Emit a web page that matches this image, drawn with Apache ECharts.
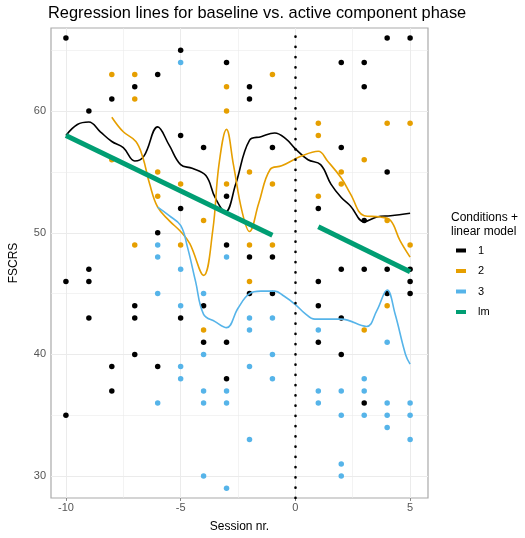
<!DOCTYPE html>
<html>
<head>
<meta charset="utf-8">
<script src="https://cdn.jsdelivr.net/npm/echarts@6/dist/echarts.min.js"></script>
<style>
html, body { margin: 0; padding: 0; background: #fff; }
#main { width: 525px; height: 538px; }
</style>
</head>
<body>
<div id="main"></div>
<script>
// tick labels
let xTicks = [-10, -5, 0, 5];
let yTicks = [30, 40, 50, 60];
let xMinor = [-7.5, -2.5, 2.5];
let yMinor = [35, 45, 55, 65];

// observed points [session, FSCRS]
let cond1Points = [
    [-10, 66], [-10, 46], [-10, 35],
    [-9, 60], [-9, 47], [-9, 46], [-9, 43],
    [-8, 61], [-8, 39], [-8, 37],
    [-7, 62], [-7, 44], [-7, 43], [-7, 40],
    [-6, 63], [-6, 50], [-6, 39],
    [-5, 65], [-5, 58], [-5, 52], [-5, 43],
    [-4, 57], [-4, 44], [-4, 41],
    [-3, 64], [-3, 53], [-3, 49], [-3, 41], [-3, 38],
    [-2, 62], [-2, 61], [-2, 48], [-2, 45],
    [-1, 57], [-1, 48], [-1, 45],
    [1, 52], [1, 46], [1, 44], [1, 41],
    [2, 64], [2, 57], [2, 47], [2, 43], [2, 40],
    [3, 64], [3, 62], [3, 51], [3, 47], [3, 36],
    [4, 66], [4, 55], [4, 47], [4, 45],
    [5, 66], [5, 47], [5, 46], [5, 45]
];
let cond2Points = [
    [-8, 63], [-8, 56],
    [-7, 63], [-7, 61], [-7, 49],
    [-6, 55], [-6, 53],
    [-5, 54], [-5, 49],
    [-4, 51], [-4, 42],
    [-3, 62], [-3, 60], [-3, 54],
    [-2, 55], [-2, 49], [-2, 46],
    [-1, 63], [-1, 54], [-1, 49],
    [1, 59], [1, 58], [1, 53],
    [2, 55], [2, 54],
    [3, 56], [3, 42],
    [4, 59], [4, 51], [4, 44],
    [5, 59], [5, 49]
];
let cond3Points = [
    [-6, 49], [-6, 48], [-6, 45], [-6, 36],
    [-5, 64], [-5, 47], [-5, 44], [-5, 39], [-5, 38],
    [-4, 45], [-4, 40], [-4, 37], [-4, 36], [-4, 30],
    [-3, 48], [-3, 37], [-3, 36], [-3, 29],
    [-2, 43], [-2, 42], [-2, 39], [-2, 33],
    [-1, 43], [-1, 40], [-1, 38],
    [1, 42], [1, 37], [1, 36],
    [2, 37], [2, 35], [2, 31], [2, 30],
    [3, 38], [3, 37], [3, 35],
    [4, 41], [4, 36], [4, 35], [4, 34],
    [5, 36], [5, 35], [5, 33]
];

// smoothed curves
let cond1Smooth = [
    [-10, 58.0], [-9.5, 58.9], [-9, 59.1], [-8.5, 58.3], [-8, 57.5], [-7.5, 57.0],
    [-7, 55.9], [-6.6, 56.3], [-6, 58.7], [-5.5, 57.2], [-5, 55.6], [-4.5, 55.3],
    [-3.9, 54.7], [-3.5, 52.9], [-3.05, 51.7], [-2.6, 54.0], [-2, 57.6], [-1.5, 57.9],
    [-0.9, 58.2], [-0.4, 57.7], [0, 56.9], [0.55, 56.0], [1.1, 55.6], [1.55, 54.0],
    [2, 52.9], [2.4, 52.2], [3, 50.9], [3.55, 51.3], [4.15, 51.4], [5, 51.6]
];
let cond2Smooth = [
    [-8, 59.5], [-7.5, 58.3], [-6.95, 57.5], [-6.65, 56.2], [-6.35, 54.0], [-6, 52.1],
    [-5.5, 51.0], [-5, 50.1], [-4.6, 49.1], [-4, 46.5], [-3.6, 50.2], [-3.33, 55.6],
    [-3, 58.5], [-2.7, 55.6], [-2.33, 51.8], [-2, 50.1], [-1.6, 52.4], [-1.1, 55.2],
    [-0.6, 55.5], [0.26, 56.3], [1, 56.7], [1.4, 55.9], [2, 54.5], [2.4, 53.2],
    [3, 51.4], [3.7, 51.3], [4.15, 51.0], [4.55, 49.4], [5, 48.0]
];
let cond3Smooth = [
    [-6, 52.1], [-5.5, 51.4], [-5, 50.6], [-4.7, 48.8], [-4.35, 46.0], [-4, 43.3],
    [-3.5, 42.7], [-3, 42.2], [-2.5, 43.8], [-2, 45.0], [-1.5, 45.2], [-0.9, 45.2],
    [-0.5, 44.8], [0, 44.1], [0.4, 43.4], [0.85, 42.9], [2, 42.9], [3.1, 42.3],
    [3.55, 43.6], [4, 45.3], [4.35, 43.3], [4.8, 40.0], [5, 39.2]
];

// linear model per phase
let lmBaseline = [[-10, 58.0], [-1, 49.8]];
let lmActive = [[1, 50.5], [5, 46.8]];

let colors = { c1: '#000000', c2: '#E69F00', c3: '#56B4E9', lm: '#009E73' };
let font = 'Liberation Sans, Arial, sans-serif';

let chart = echarts.init(document.getElementById('main'));

let gridLines = [];
xTicks.forEach(function (v) { gridLines.push({ xAxis: v, lineStyle: { width: 1 } }); });
xMinor.forEach(function (v) { gridLines.push({ xAxis: v, lineStyle: { width: 0.6 } }); });
yTicks.forEach(function (v) { gridLines.push({ yAxis: v, lineStyle: { width: 1 } }); });
yMinor.forEach(function (v) { gridLines.push({ yAxis: v, lineStyle: { width: 0.6 } }); });

function scatter(name, pts, color) {
    return {
        name: name, type: 'scatter', data: pts, symbolSize: 5.5,
        itemStyle: { color: color, opacity: 1 }, z: 3
    };
}
function curve(name, pts, color, width) {
    return {
        name: name, type: 'line', data: pts, smooth: 0.4, showSymbol: false,
        lineStyle: { color: color, width: width }, itemStyle: { color: color }, z: 4
    };
}

let option = {
    animation: false,
    textStyle: { fontFamily: font },
    title: [
        {
            text: 'Regression lines for baseline vs. active component phase',
            left: 43, top: 0,
            textStyle: { fontSize: 16.4, fontWeight: 'normal', color: '#000', fontFamily: font }
        },
        {
            text: 'Conditions +\nlinear model',
            left: 446, top: 206,
            textStyle: { fontSize: 12, fontWeight: 'normal', color: '#000', lineHeight: 14, fontFamily: font }
        }
    ],
    legend: {
        data: ['1', '2', '3', 'lm'],
        orient: 'vertical',
        left: 451, top: 240,
        icon: 'rect',
        itemWidth: 10, itemHeight: 4,
        itemGap: 9.5,
        textStyle: { fontSize: 11, color: '#000', padding: [0, 0, 0, 7] }
    },
    grid: {
        left: 45, right: 97, top: 28, bottom: 36,
        show: true, borderColor: '#aaaaaa', borderWidth: 1.2, backgroundColor: '#fff'
    },
    xAxis: {
        type: 'value', min: -10.65, max: 5.78,
        name: 'Session nr.', nameLocation: 'middle', nameGap: 23,
        nameTextStyle: { fontSize: 12, color: '#000' },
        axisLine: { show: false },
        axisTick: { show: true, customValues: xTicks, length: 3, lineStyle: { color: '#888' } },
        axisLabel: { customValues: xTicks, fontSize: 11, color: '#555', margin: 4 },
        splitLine: { show: false }
    },
    yAxis: {
        type: 'value', min: 28.2, max: 66.83,
        name: 'FSCRS', nameLocation: 'middle', nameGap: 31,
        nameTextStyle: { fontSize: 12, color: '#000' },
        axisLine: { show: false },
        axisTick: { show: true, customValues: yTicks, length: 3, lineStyle: { color: '#888' } },
        axisLabel: { customValues: yTicks, fontSize: 11, color: '#555', margin: 5 },
        splitLine: { show: false }
    },
    series: [
        {
            name: 'grid', type: 'line', data: [], z: 1, silent: true,
            markLine: {
                z: 1, silent: true, symbol: 'none', label: { show: false },
                lineStyle: { color: '#ebebeb', type: 'solid' },
                data: gridLines
            }
        },
        scatter('1', cond1Points, colors.c1),
        scatter('2', cond2Points, colors.c2),
        scatter('3', cond3Points, colors.c3),
        curve('1', cond1Smooth, colors.c1, 1.6),
        curve('2', cond2Smooth, colors.c2, 1.6),
        curve('3', cond3Smooth, colors.c3, 1.6),
        curve('lm', lmBaseline, colors.lm, 5),
        curve('lm', lmActive, colors.lm, 5),
        {
            name: 'phase', type: 'line', data: [], z: 5, silent: true,
            markLine: {
                z: 5, silent: true, symbol: 'none', label: { show: false },
                lineStyle: { color: '#000', type: [0.1, 10.15], width: 2.6, cap: 'round' },
                data: [{ xAxis: 0 }]
            }
        }
    ]
};

chart.setOption(option);
</script>
</body>
</html>
